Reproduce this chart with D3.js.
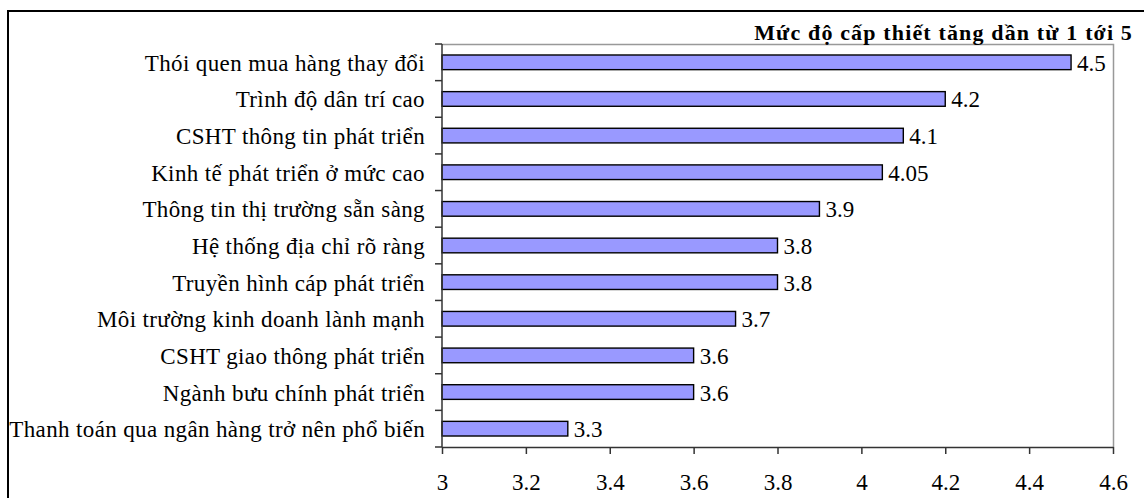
<!DOCTYPE html>
<html>
<head>
<meta charset="utf-8">
<script src="https://cdn.jsdelivr.net/npm/d3@7"></script>
<style>
  html, body { margin: 0; padding: 0; background: #fff; }
  svg { display: block; }
</style>
</head>
<body>
<svg id="chart" width="1144" height="498" font-family="Liberation Serif"></svg>
<script>
// Factors, top to bottom, with their urgency scores (scale 1–5)
const categories = [
  "Thói quen mua hàng thay đổi",
  "Trình độ dân trí cao",
  "CSHT thông tin phát triển",
  "Kinh tế phát triển ở mức cao",
  "Thông tin thị trường sẵn sàng",
  "Hệ thống địa chỉ rõ ràng",
  "Truyền hình cáp phát triển",
  "Môi trường kinh doanh lành mạnh",
  "CSHT giao thông phát triển ",
  "Ngành bưu chính phát triển",
  "Thanh toán qua ngân hàng trở nên phổ biến"
];
const values = [4.5, 4.2, 4.1, 4.05, 3.9, 3.8, 3.8, 3.7, 3.6, 3.6, 3.3];
const xTicks = [3, 3.2, 3.4, 3.6, 3.8, 4, 4.2, 4.4, 4.6];
const title = "Mức độ cấp thiết tăng dần từ 1 tới 5";

const FONT = "Liberation Serif";
const FS = 23;

const svg = d3.select("#chart");

// Outer frame of the chart object
svg.append("rect")
  .attr("x", 8).attr("y", 11)
  .attr("width", 1144).attr("height", 600)
  .attr("fill", "none").attr("stroke", "#000").attr("stroke-width", 2);

const plot = { left: 442, right: 1113, top: 44, bottom: 447 };

const x = d3.scaleLinear().domain([3, 4.6]).range([plot.left, plot.right]);
const y = d3.scaleBand().domain(categories).range([plot.top, plot.bottom]).paddingInner(0.6).paddingOuter(0.3);
const yEdges = d3.scaleLinear().domain([0, categories.length]).range([plot.top, plot.bottom]);

// Plot-area border (top and right, grey)
svg.append("path")
  .attr("d", `M${plot.left},${plot.top + 0.5}H${plot.right + 0.5}V${plot.bottom}`)
  .attr("fill", "none").attr("stroke", "#999").attr("stroke-width", 1.5);

// Bars
svg.append("g").selectAll("rect")
  .data(values)
  .join("rect")
  .attr("x", x(3))
  .attr("y", (d, i) => y(categories[i]))
  .attr("width", d => x(d) - x(3))
  .attr("height", y.bandwidth())
  .attr("fill", "#9999FF")
  .attr("stroke", "#000")
  .attr("stroke-width", 1.4);

// Value labels
svg.append("g").selectAll("text")
  .data(values)
  .join("text")
  .attr("x", d => x(d) + 6)
  .attr("y", (d, i) => y(categories[i]) + y.bandwidth() / 2)
  .attr("dy", "0.37em")
  .attr("font-family", FONT)
  .attr("font-size", FS)
  .text(d => d);

// Category axis: line with tick marks between categories
const yAxis = svg.append("g");
yAxis.append("line")
  .attr("x1", plot.left).attr("x2", plot.left)
  .attr("y1", plot.top).attr("y2", plot.bottom)
  .attr("stroke", "#333").attr("stroke-width", 1.5);
yAxis.selectAll("line.tick")
  .data(d3.range(categories.length + 1))
  .join("line")
  .attr("class", "tick")
  .attr("x1", plot.left - 7).attr("x2", plot.left)
  .attr("y1", i => yEdges(i)).attr("y2", i => yEdges(i))
  .attr("stroke", "#333").attr("stroke-width", 1.5);
yAxis.selectAll("text")
  .data(categories)
  .join("text")
  .attr("x", plot.left - 17)
  .attr("y", d => y(d) + y.bandwidth() / 2)
  .attr("dy", "0.37em")
  .attr("text-anchor", "end")
  .attr("font-family", FONT)
  .attr("font-size", FS)
  .attr("letter-spacing", 0.37)
  .text(d => d);

// Value axis along the bottom
const xAxis = svg.append("g")
  .attr("transform", `translate(0,${plot.bottom})`)
  .call(d3.axisBottom(x).tickValues(xTicks).tickSize(7).tickSizeOuter(0).tickPadding(20).tickFormat(d3.format("")));
xAxis.attr("font-family", FONT).attr("font-size", FS);
xAxis.select(".domain").attr("stroke", "#333").attr("stroke-width", 1.5);
xAxis.selectAll(".tick line").attr("stroke", "#333").attr("stroke-width", 1.5);
xAxis.selectAll(".tick text").attr("fill", "#000");

// Title at the top right
svg.append("text")
  .attr("x", 1133).attr("y", 40)
  .attr("text-anchor", "end")
  .attr("font-family", FONT)
  .attr("font-size", 22)
  .attr("font-weight", "bold")
  .attr("letter-spacing", 1.15)
  .text(title);
</script>
</body>
</html>
